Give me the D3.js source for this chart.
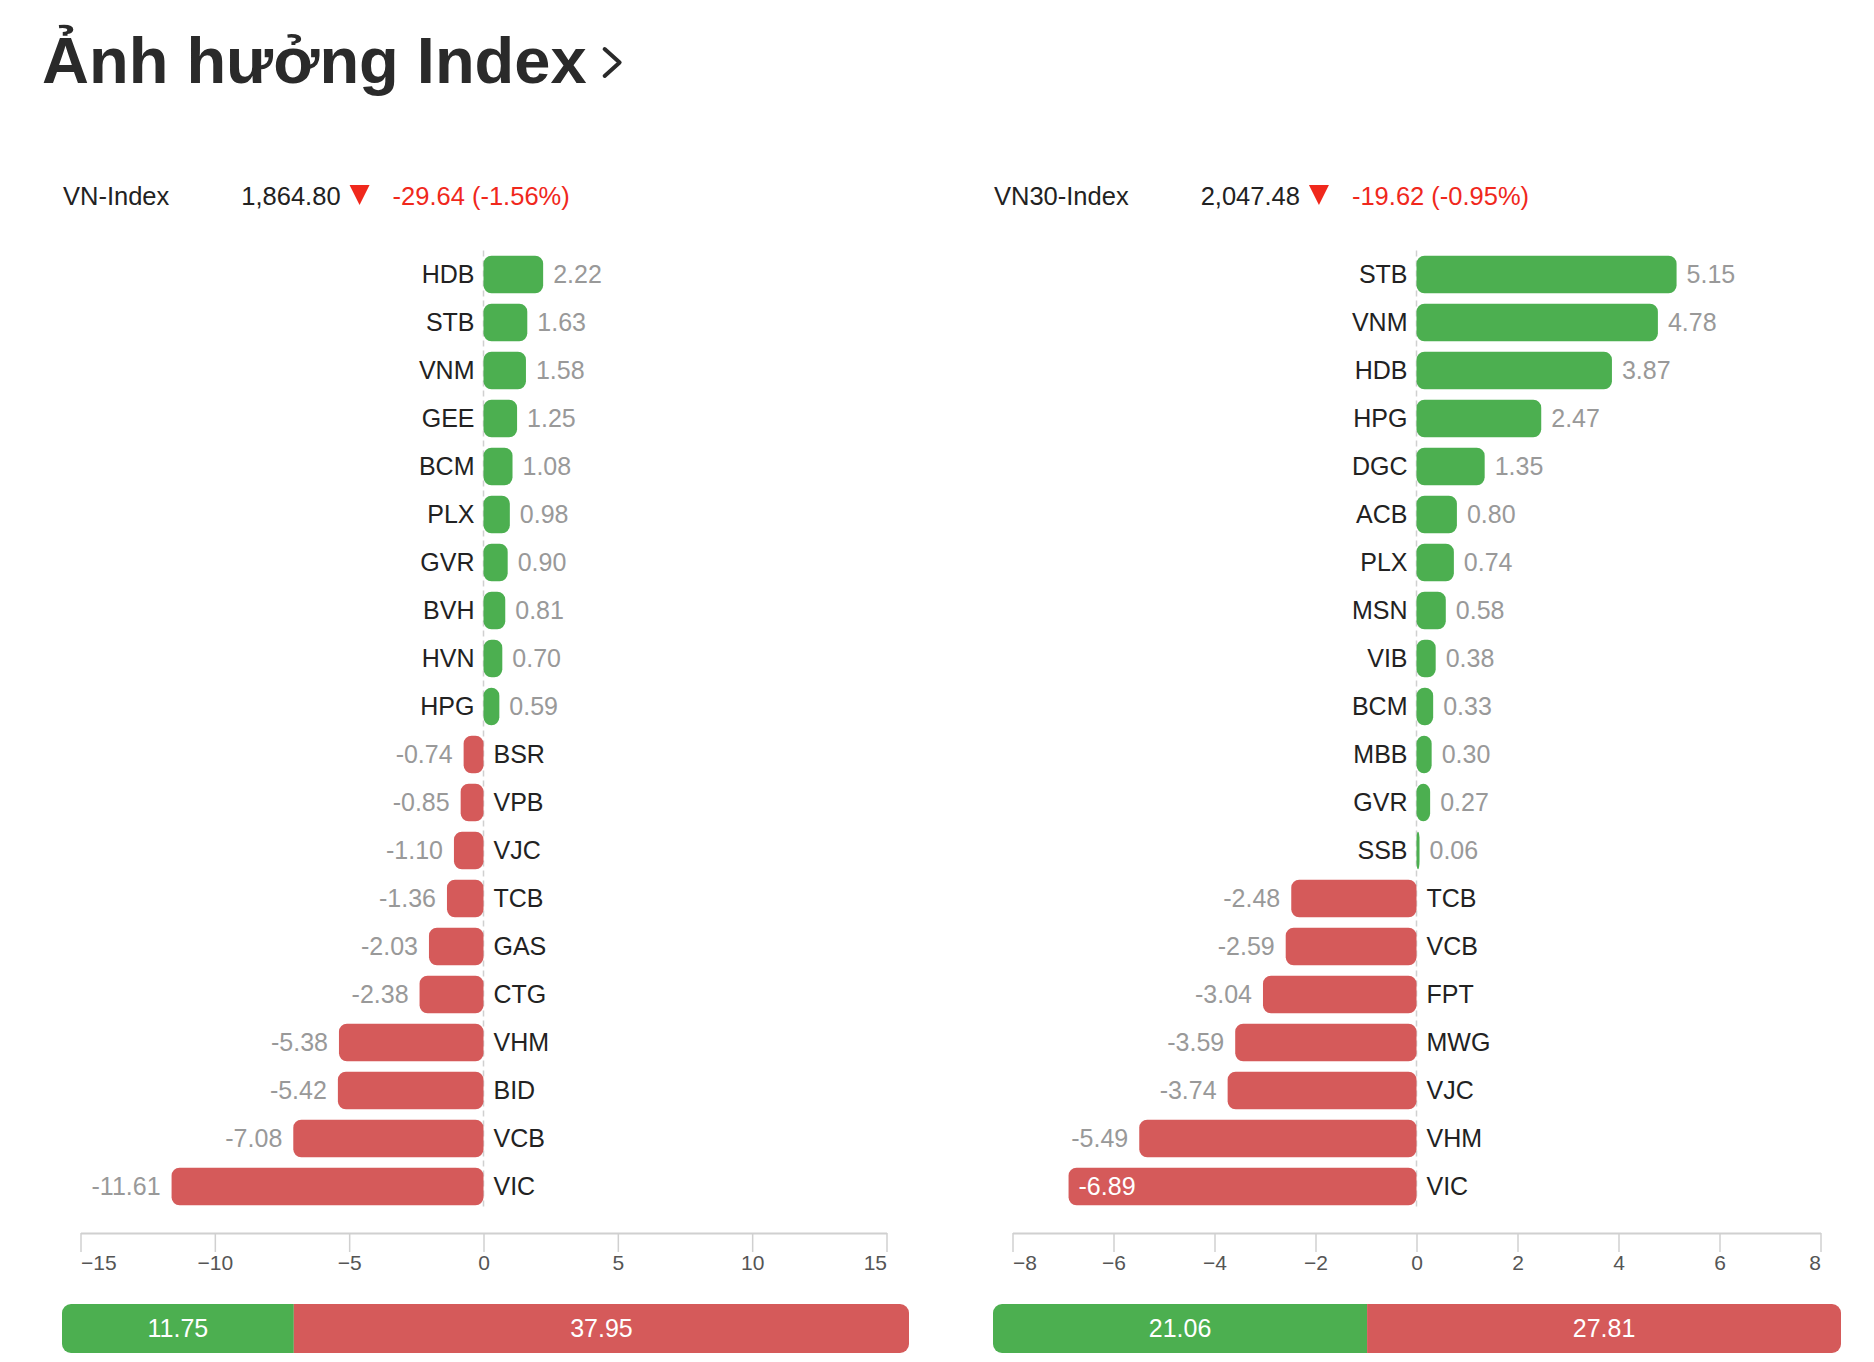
<!DOCTYPE html>
<html>
<head>
<meta charset="utf-8">
<script src="https://cdn.jsdelivr.net/npm/d3@7"></script>
<style>
  html, body { margin: 0; padding: 0; background: #fff; }
  svg { display: block; }
  text { font-family: "Liberation Sans", Arial, Helvetica, sans-serif; }
</style>
</head>
<body>
<svg id="chart" width="1874" height="1362"></svg>
<script>
// ---------- DATA ----------
const title = "Ảnh hưởng Index";

const leftIndexName = "VN-Index";
const leftIndexValue = "1,864.80";
const leftIndexChange = "-29.64 (-1.56%)";
const leftCategories = ["HDB","STB","VNM","GEE","BCM","PLX","GVR","BVH","HVN","HPG",
                        "BSR","VPB","VJC","TCB","GAS","CTG","VHM","BID","VCB","VIC"];
const leftValues = [2.22,1.63,1.58,1.25,1.08,0.98,0.90,0.81,0.70,0.59,
                    -0.74,-0.85,-1.10,-1.36,-2.03,-2.38,-5.38,-5.42,-7.08,-11.61];
const leftTicks = [-15,-10,-5,0,5,10,15];
const leftDomain = [-15,15];
const leftTotals = [11.75, 37.95];

const rightIndexName = "VN30-Index";
const rightIndexValue = "2,047.48";
const rightIndexChange = "-19.62 (-0.95%)";
const rightCategories = ["STB","VNM","HDB","HPG","DGC","ACB","PLX","MSN","VIB","BCM",
                         "MBB","GVR","SSB","TCB","VCB","FPT","MWG","VJC","VHM","VIC"];
const rightValues = [5.15,4.78,3.87,2.47,1.35,0.80,0.74,0.58,0.38,0.33,
                     0.30,0.27,0.06,-2.48,-2.59,-3.04,-3.59,-3.74,-5.49,-6.89];
const rightTicks = [-8,-6,-4,-2,0,2,4,6,8];
const rightDomain = [-8,8];
const rightTotals = [21.06, 27.81];

// ---------- STYLE ----------
const GREEN = "#4caf50";
const RED = "#d55a5a";
const TEXT = "#222";
const GRAY = "#999";
const ALERT = "#f0281c";

const svg = d3.select("#chart");

// Title
const titleText = svg.append("text")
  .attr("x", 42).attr("y", 83)
  .attr("font-size", 65).attr("font-weight", "bold")
  .attr("fill", "#2a2a2a")
  .text(title);
const tw = titleText.node().getComputedTextLength();
const cx = 42 + tw + 18;
svg.append("path")
  .attr("d", `M${cx},49 L${cx+15},62.5 L${cx},76`)
  .attr("fill", "none").attr("stroke", "#2a2a2a")
  .attr("stroke-width", 4).attr("stroke-linecap", "round").attr("stroke-linejoin", "round");

function drawPanel(o) {
  const g = svg.append("g");

  // header
  const hy = 205;
  const fs = 25.5;
  const n = g.append("text").attr("x", o.x0).attr("y", hy).attr("font-size", fs)
    .attr("fill", TEXT).text(o.name);
  const vx = o.x0 + n.node().getComputedTextLength() + 72;
  const v = g.append("text").attr("x", vx).attr("y", hy).attr("font-size", fs)
    .attr("fill", TEXT).text(o.value);
  const tx = vx + v.node().getComputedTextLength() + 9;
  g.append("path")
    .attr("d", `M${tx},${hy-20} L${tx+20},${hy-20} L${tx+10},${hy}Z`)
    .attr("fill", ALERT);
  g.append("text").attr("x", tx + 43).attr("y", hy).attr("font-size", fs)
    .attr("fill", ALERT).text(o.change);

  // scales
  const x = d3.scaleLinear().domain(o.domain).range(o.range);
  const y = d3.scaleBand().domain(o.categories).range([250.5, 1210.5])
    .paddingInner(0.22).paddingOuter(0.11);
  const data = o.categories.map((c, i) => ({c, v: o.values[i]}));
  const x0 = x(0);

  // zero dashed line
  g.append("line")
    .attr("x1", x0).attr("x2", x0)
    .attr("y1", y.range()[0]).attr("y2", y.range()[1])
    .attr("stroke", "#d0d0d0").attr("stroke-width", 1.5)
    .attr("stroke-dasharray", "6,4");

  // bars
  g.selectAll("rect.bar").data(data).enter().append("rect")
    .attr("class", "bar")
    .attr("x", d => x(Math.min(0, d.v)))
    .attr("width", d => Math.abs(x(d.v) - x0))
    .attr("y", d => y(d.c))
    .attr("height", y.bandwidth())
    .attr("rx", 8).attr("ry", 8)
    .attr("fill", d => d.v >= 0 ? GREEN : RED);

  const lfs = 25;
  // category labels
  g.selectAll("text.cat").data(data).enter().append("text")
    .attr("class", "cat")
    .attr("x", d => d.v >= 0 ? x0 - 9 : x0 + 10)
    .attr("y", d => y(d.c) + y.bandwidth() / 2)
    .attr("dy", "0.35em")
    .attr("text-anchor", d => d.v >= 0 ? "end" : "start")
    .attr("font-size", lfs).attr("fill", TEXT)
    .text(d => d.c);

  // value labels
  g.selectAll("text.val").data(data).enter().append("text")
    .attr("class", "val")
    .attr("y", d => y(d.c) + y.bandwidth() / 2)
    .attr("dy", "0.35em")
    .attr("font-size", lfs)
    .text(d => d.v.toFixed(2))
    .each(function(d) {
      const t = d3.select(this);
      const w = this.getComputedTextLength();
      if (d.v >= 0) {
        t.attr("x", x(d.v) + 10).attr("text-anchor", "start").attr("fill", GRAY);
      } else if (x(d.v) - 11 - w < o.range[0]) {
        t.attr("x", x(d.v) + 10).attr("text-anchor", "start").attr("fill", "#fff");
      } else {
        t.attr("x", x(d.v) - 11).attr("text-anchor", "end").attr("fill", GRAY);
      }
    });

  // axis
  const axis = d3.axisBottom(x).tickValues(o.ticks).tickSize(19).tickSizeOuter(0).tickPadding(3);
  const ag = g.append("g").attr("transform", "translate(0,1233)").call(axis);
  ag.select(".domain").attr("stroke", "#d0d0d0").attr("stroke-width", 2);
  ag.selectAll(".tick line").attr("stroke", "#d0d0d0").attr("stroke-width", 1.5);
  ag.selectAll(".tick text")
    .attr("font-family", "DejaVu Sans, sans-serif")
    .attr("font-size", 21).attr("fill", "#555")
    .attr("text-anchor", (d, i, nodes) => i === 0 ? "start" : (i === nodes.length - 1 ? "end" : "middle"));

  // summary bar
  const sy = 1304, sh = 49;
  const W = o.sumRange[1] - o.sumRange[0];
  const lab = g.append("g");
  const gt = lab.append("text").attr("font-size", 25).attr("fill", "#fff")
    .attr("text-anchor", "middle").text(o.totals[0].toFixed(2));
  const rt = lab.append("text").attr("font-size", 25).attr("fill", "#fff")
    .attr("text-anchor", "middle").text(o.totals[1].toFixed(2));
  const gw0 = gt.node().getComputedTextLength();
  const rw0 = rt.node().getComputedTextLength();
  const s = d3.scaleLinear().domain([0, o.totals[0] + o.totals[1]]).range([0, W - gw0 - rw0]);
  const gW = gw0 + s(o.totals[0]);
  const sx = o.sumRange[0];
  const clipId = "clip" + o.id;
  g.append("clipPath").attr("id", clipId).append("rect")
    .attr("x", sx).attr("y", sy).attr("width", W).attr("height", sh).attr("rx", 9).attr("ry", 9);
  const sb = g.insert("g", () => lab.node()).attr("clip-path", `url(#${clipId})`);
  sb.append("rect").attr("x", sx).attr("y", sy).attr("width", gW).attr("height", sh).attr("fill", GREEN);
  sb.append("rect").attr("x", sx + gW).attr("y", sy).attr("width", W - gW).attr("height", sh).attr("fill", RED);
  gt.attr("x", sx + gW / 2).attr("y", sy + sh / 2).attr("dy", "0.35em");
  rt.attr("x", sx + gW + (W - gW) / 2).attr("y", sy + sh / 2).attr("dy", "0.35em");
}

drawPanel({
  id: "L", x0: 63, name: leftIndexName, value: leftIndexValue, change: leftIndexChange,
  categories: leftCategories, values: leftValues, ticks: leftTicks, domain: leftDomain,
  range: [80.5, 886.5], totals: leftTotals, sumRange: [62, 909]
});
drawPanel({
  id: "R", x0: 994, name: rightIndexName, value: rightIndexValue, change: rightIndexChange,
  categories: rightCategories, values: rightValues, ticks: rightTicks, domain: rightDomain,
  range: [1012.5, 1820.5], totals: rightTotals, sumRange: [993, 1841]
});
</script>
</body>
</html>
